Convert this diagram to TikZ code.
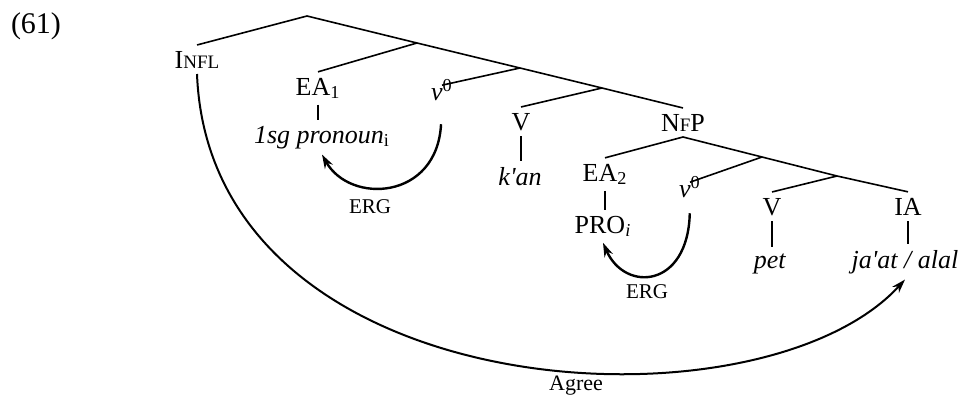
\documentclass[tikz,border=0pt]{standalone}
\usepackage{fontspec}
\setmainfont{Liberation Serif}
\usetikzlibrary{arrows.meta}
\newcommand{\smcap}[1]{{\fontsize{9.5}{11}\selectfont #1}}

\begin{document}
\begin{tikzpicture}[>=Stealth, x=0.5pt, y=-0.5pt, line width=0.8pt,
    lab/.style={inner sep=0pt, outer ysep=3pt, anchor=base,
                font=\fontsize{13}{15}\selectfont},
    arc/.style={->, line width=1.2pt,
                >={Stealth[length=7pt, width=4.5pt]}}]
  \useasboundingbox (0,0) rectangle (963,396);
  \node[anchor=base, font=\fontsize{15}{18}\selectfont] (ex) at (36,33) {(61)};

  \coordinate (r) at (307,16);
  \coordinate (a) at (417,43);
  \coordinate (b) at (520,68);
  \coordinate (c) at (602,88);
  \coordinate (d) at (762,157);
  \coordinate (e) at (837,176);

  \node[lab] (infl) at (197,68)  {I\smcap{NFL}};
  \node[lab] (ea1)  at (318,95)  {EA\textsubscript{1}};
  \node[lab] (pron) at (322,143) {\textit{1sg pronoun}\textsubscript{i}};
  \node[lab] (vz1)  at (442,100) {\textit{ν}\textsuperscript{0}};
  \node[lab] (v1)   at (521,130) {V};
  \node[lab] (kan)  at (520,185) {\textit{k\textquotesingle an}};
  \node[lab] (nfp)  at (683,131) {N\smcap{F}P};
  \node[lab] (ea2)  at (605,181) {EA\textsubscript{2}};
  \node[lab] (pro)  at (603,233) {PRO\textsubscript{\textit{i}}};
  \node[lab] (vz2)  at (690,197) {\textit{ν}\textsuperscript{0}};
  \node[lab] (v2)   at (772,215) {V};
  \node[lab] (ia)   at (908,215) {IA};
  \node[lab] (pet)  at (770,268) {\textit{pet}};
  \node[lab] (jaat) at (905,268) {\textit{ja\textquotesingle at / alal}};
  \node[lab, font=\fontsize{10.5}{12}\selectfont] (erg1) at (370,213) {ERG};
  \node[lab, font=\fontsize{10.5}{12}\selectfont] (erg2) at (647,298) {ERG};
  \node[lab, font=\fontsize{11}{13}\selectfont] (agr) at (576,390) {Agree};

  \draw (r) -- (infl.north);
  \draw (r) -- (a) -- (b) -- (c) -- (nfp.north);
  \draw (a) -- (ea1.north);
  \draw (b) -- ([yshift=-6pt]vz1.north);
  \draw (c) -- (v1.north);
  \draw (nfp.south) -- (d) -- (e) -- (ia.north);
  \draw (nfp.south) -- (ea2.north);
  \draw (d) -- ([yshift=-6pt]vz2.north);
  \draw (e) -- (v2.north);

  \draw (ea1.south) -- (ea1.south |- pron.north);
  \draw (v1.south) -- (v1.south |- kan.north);
  \draw (ea2.south) -- (ea2.south |- pro.north);
  \draw (v2.south) -- (v2.south |- pet.north);
  \draw (ia.south) -- (ia.south |- jaat.north);

  \draw[arc, shorten <=9pt] (vz1.south) .. controls +(-5,94) and +(28,50) .. (pron.south);
  \draw[arc, shorten <=5pt] (vz2.south) .. controls +(-2,85) and +(22,50) .. (pro.south);
  \draw[arc, line width=1pt] (infl.south) .. controls +(13,335) and +(-145,159) .. (jaat.south);
\end{tikzpicture}
\end{document}
